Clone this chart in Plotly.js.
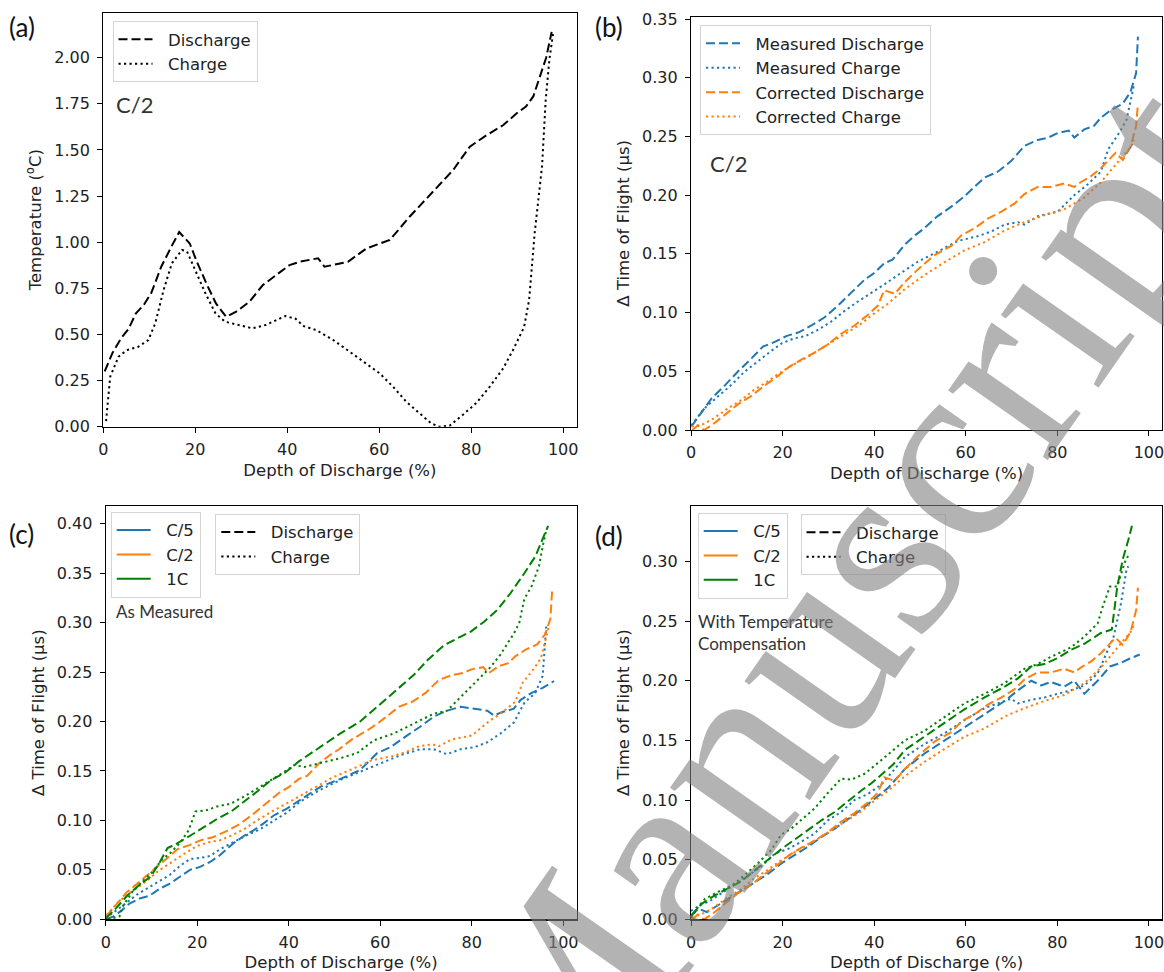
<!DOCTYPE html>
<html>
<head>
<meta charset="utf-8">
<script src="https://cdn.plot.ly/plotly-3.0.1.min.js"></script>
<style>html,body{margin:0;padding:0;background:#fff;}#chart{width:1164px;height:972px;}</style>
</head>
<body>
<div id="chart"></div>
<script>
// ---------- DATA ----------
// (a) temperature, C/2
const a_dis_x = [0.3, 2, 3.9, 5.5, 7.1, 8.8, 10.4, 12.6, 14.8, 16.5, 18.8, 20.2, 22.4, 24.5, 26.7, 28.9, 31.8, 34.7, 37.6, 40.5, 42.7, 44.9, 46.7, 48.1, 50, 53.2, 57.2, 62.3, 66.6, 71.7, 76.1, 79.7, 83.4, 87, 89.9, 91.9, 93.5, 95.1, 96.3, 97.5];
const a_dis_y = [0.30, 0.40, 0.48, 0.53, 0.615, 0.66, 0.723, 0.867, 0.976, 1.055, 0.993, 0.903, 0.777, 0.668, 0.596, 0.623, 0.678, 0.768, 0.822, 0.876, 0.894, 0.903, 0.913, 0.867, 0.876, 0.894, 0.966, 1.012, 1.138, 1.274, 1.392, 1.518, 1.581, 1.635, 1.699, 1.735, 1.79, 1.91, 2.0, 2.14];
const a_chg_x = [0.6, 1.0, 1.5, 3.3, 5.1, 7.6, 9.8, 11.3, 13.1, 14.9, 17.1, 18.2, 20, 22.2, 24.4, 26.5, 29.5, 32.4, 35.3, 37.5, 39.6, 41.8, 43.6, 46.3, 50, 53.6, 57.2, 60.1, 63, 65.9, 68.8, 71.3, 73.1, 75.3, 78.2, 81.1, 84.1, 87, 89.1, 90.6, 91.5, 92.6, 93.8, 95.4, 96.2, 97, 97.8];
const a_chg_y = [0.03, 0.15, 0.271, 0.379, 0.415, 0.433, 0.47, 0.56, 0.74, 0.885, 0.958, 0.95, 0.85, 0.723, 0.614, 0.569, 0.551, 0.533, 0.551, 0.578, 0.6, 0.585, 0.545, 0.524, 0.47, 0.406, 0.343, 0.289, 0.217, 0.135, 0.072, 0.018, 0.0, 0.005, 0.065, 0.128, 0.219, 0.318, 0.416, 0.497, 0.54, 0.687, 1.048, 1.41, 1.77, 1.99, 2.13];

// (b) C/2 measured / corrected  (same C/2 data reused in c and d)
const mDis_x = [0.1, 1.9, 4.5, 7.4, 10.3, 13.2, 15.7, 18.3, 20.8, 23.4, 26.3, 29.2, 32.1, 35, 37.9, 40.1, 42.2, 44, 46.7, 49, 51, 53.8, 55.4, 57.5, 59.7, 62, 64.1, 67, 69.9, 72.8, 75.7, 78, 80.1, 82.5, 83.7, 85.9, 88, 89.5, 91.9, 94.3, 96, 97.2, 97.6];
const mDis_y = [0.003, 0.013, 0.027, 0.038, 0.050, 0.061, 0.071, 0.075, 0.080, 0.083, 0.089, 0.096, 0.106, 0.117, 0.128, 0.134, 0.142, 0.145, 0.158, 0.166, 0.172, 0.182, 0.186, 0.192, 0.199, 0.207, 0.215, 0.220, 0.229, 0.242, 0.247, 0.249, 0.253, 0.255, 0.249, 0.256, 0.259, 0.266, 0.273, 0.278, 0.288, 0.304, 0.335];
const mChg_x = [0.1, 2.8, 5.7, 9, 11.5, 14.4, 17.4, 19.9, 22.5, 25, 27.6, 30.5, 33.4, 36.3, 39.2, 42.2, 45.2, 49.6, 53.9, 58.3, 62.6, 65.5, 68.5, 71.4, 72.8, 75.7, 80.1, 83.7, 86.6, 89.5, 91.1, 93.5, 95.1, 96, 96.8];
const mChg_y = [0.004, 0.018, 0.028, 0.039, 0.049, 0.058, 0.067, 0.074, 0.078, 0.080, 0.085, 0.092, 0.101, 0.109, 0.116, 0.124, 0.132, 0.1435, 0.152, 0.161, 0.165, 0.169, 0.175, 0.177, 0.175, 0.182, 0.186, 0.200, 0.209, 0.220, 0.239, 0.253, 0.264, 0.281, 0.295];
const cDis_x = [0.3, 1.5, 2.8, 4.5, 7.4, 10.3, 13.2, 16.1, 19, 21.5, 24.1, 27, 29.9, 32.8, 35.7, 38.6, 40.8, 42.2, 44.5, 46.7, 49.6, 53.2, 56.9, 59.1, 62, 64.8, 67.8, 70.7, 72.8, 75.7, 78.6, 81.5, 83.7, 85.1, 87.3, 89.5, 92.7, 94.3, 96, 97.2, 97.6];
const cDis_y = [0.0, 0.004, 0.0, 0.004, 0.013, 0.022, 0.029, 0.038, 0.046, 0.054, 0.060, 0.066, 0.073, 0.082, 0.089, 0.098, 0.106, 0.119, 0.116, 0.126, 0.137, 0.149, 0.157, 0.166, 0.172, 0.180, 0.186, 0.193, 0.201, 0.207, 0.207, 0.210, 0.207, 0.211, 0.216, 0.223, 0.236, 0.230, 0.241, 0.259, 0.278];
const cChg_x = [0.1, 2.2, 5, 7.9, 10.8, 13.7, 16.6, 19.5, 22.5, 25.4, 28.3, 31.2, 34.1, 37, 39.9, 42.8, 46.7, 51, 55.4, 59.7, 64.1, 68.5, 72.8, 77.2, 81.5, 85.9, 89.5, 91.9, 94.3, 96, 96.8];
const cChg_y = [0.003, 0.004, 0.010, 0.018, 0.025, 0.034, 0.041, 0.049, 0.056, 0.062, 0.069, 0.076, 0.083, 0.090, 0.099, 0.107, 0.120, 0.132, 0.143, 0.153, 0.160, 0.170, 0.177, 0.183, 0.188, 0.198, 0.211, 0.222, 0.233, 0.241, 0.247];

// (c) as measured: C/5 and 1C
const c5Dis_x = [0.1, 1.7, 3.2, 5.2, 7.4, 9.6, 11.8, 14, 16.2, 18.4, 20.6, 22.8, 25, 27.9, 30.1, 32.3, 34.5, 36.7, 39.6, 42.5, 46.9, 51.3, 55.6, 59.3, 62.2, 65.9, 68.8, 71.7, 74.6, 77.6, 80.5, 83.4, 84.9, 86.3, 89.2, 90.7, 93.1, 95.5, 98];
const c5Dis_y = [0.0, 0.003, 0.008, 0.016, 0.021, 0.024, 0.031, 0.036, 0.043, 0.050, 0.053, 0.058, 0.065, 0.077, 0.084, 0.090, 0.097, 0.105, 0.112, 0.121, 0.134, 0.142, 0.151, 0.168, 0.174, 0.186, 0.195, 0.205, 0.211, 0.215, 0.213, 0.211, 0.206, 0.209, 0.213, 0.222, 0.229, 0.234, 0.241];
const c5Chg_x = [0, 2.4, 4.6, 6.8, 9.4, 11.8, 14, 16.2, 18.4, 20.6, 22.8, 25, 27.9, 30.8, 33.7, 36.7, 39.6, 42.5, 46.9, 51.3, 55.6, 60, 64.4, 68.8, 71.7, 74.6, 77.6, 80.5, 83.4, 86.3, 89.2, 91.5, 93.9, 95.5, 96, 96.3];
const c5Chg_y = [0.001, 0.009, 0.017, 0.025, 0.032, 0.039, 0.045, 0.054, 0.061, 0.062, 0.064, 0.071, 0.078, 0.085, 0.091, 0.100, 0.108, 0.119, 0.131, 0.141, 0.149, 0.158, 0.166, 0.172, 0.172, 0.167, 0.172, 0.174, 0.179, 0.188, 0.199, 0.219, 0.229, 0.246, 0.276, 0.297];
const c1Dis_x = [0, 2.2, 4.7, 7.6, 9.8, 11.7, 13.5, 15.7, 18.6, 21.5, 24.5, 27.4, 30.3, 33.3, 36.2, 39.1, 42.3, 46.9, 51.3, 55.6, 59.3, 63.7, 67.3, 70.3, 73.9, 77.6, 79.8, 82.7, 85.6, 88.5, 90.4, 91.5, 93.9, 95.5, 96.7];
const c1Dis_y = [0.001, 0.011, 0.024, 0.036, 0.043, 0.057, 0.072, 0.077, 0.085, 0.093, 0.102, 0.109, 0.119, 0.130, 0.141, 0.148, 0.160, 0.174, 0.188, 0.200, 0.215, 0.232, 0.247, 0.262, 0.277, 0.286, 0.291, 0.301, 0.313, 0.330, 0.342, 0.350, 0.367, 0.384, 0.398];
const c1Chg_x = [0.5, 3, 3.8, 6, 8.2, 10.4, 12.2, 14.1, 16.2, 18.1, 19.6, 21.8, 24.3, 27.3, 30.2, 33.1, 36.1, 39, 41.2, 43.4, 46.9, 51.3, 54.9, 58.6, 63, 67.3, 71.7, 74.6, 77.6, 81.2, 84.1, 86.3, 89.2, 90.4, 91.5, 93.1, 94.7, 95.5, 96.3];
const c1Chg_y = [0.0, 0.003, 0.014, 0.029, 0.039, 0.049, 0.060, 0.067, 0.077, 0.090, 0.109, 0.110, 0.114, 0.117, 0.124, 0.132, 0.141, 0.149, 0.156, 0.154, 0.158, 0.163, 0.168, 0.181, 0.188, 0.198, 0.208, 0.211, 0.225, 0.241, 0.255, 0.268, 0.289, 0.300, 0.324, 0.337, 0.357, 0.377, 0.394];

// (d) with temperature compensation: C/5 and 1C
const d5Dis_x = [0, 1.6, 3.5, 5.2, 8.1, 11, 13.9, 16.8, 19.8, 22.7, 25.6, 28.5, 31.4, 34.3, 37.2, 40.1, 43, 46.7, 51, 55.4, 59.7, 64.1, 68.5, 71.4, 74.3, 76.5, 78.6, 81.5, 83.7, 85.9, 88.8, 91.5, 93.9, 95.5, 98];
const d5Dis_y = [0.003, 0.009, 0.006, 0.010, 0.017, 0.024, 0.031, 0.038, 0.047, 0.054, 0.061, 0.069, 0.076, 0.084, 0.092, 0.101, 0.110, 0.126, 0.139, 0.150, 0.161, 0.172, 0.183, 0.192, 0.200, 0.196, 0.199, 0.195, 0.200, 0.189, 0.200, 0.212, 0.215, 0.218, 0.222];
const d5Chg_x = [0, 2, 4, 6.7, 11, 15.3, 18.3, 21.2, 24.1, 27, 29.9, 32.8, 35.7, 38.6, 41.6, 44.2, 46.7, 51, 55.4, 59.7, 64.1, 67, 69.9, 71.4, 74.3, 77.2, 80.1, 83, 85.9, 88.8, 92.3, 93.9, 95.1, 95.5];
const d5Chg_y = [0.007, 0.012, 0.015, 0.022, 0.033, 0.044, 0.055, 0.059, 0.065, 0.072, 0.083, 0.090, 0.100, 0.105, 0.113, 0.125, 0.136, 0.147, 0.156, 0.167, 0.177, 0.181, 0.185, 0.181, 0.184, 0.186, 0.189, 0.192, 0.196, 0.206, 0.237, 0.265, 0.293, 0.296];
const d1Dis_x = [0, 2.3, 5.2, 8.1, 11, 13.9, 16.8, 19.8, 22.7, 25.6, 28.5, 31.4, 34.3, 37.2, 39.4, 41.6, 44.2, 46.7, 51, 55.4, 59.7, 64.1, 68.5, 71.4, 74.3, 77.2, 80.1, 83, 85.9, 89.5, 91.9, 93.1, 94.3, 95.5, 96.3];
const d1Dis_y = [0.003, 0.013, 0.020, 0.026, 0.032, 0.041, 0.050, 0.059, 0.067, 0.075, 0.083, 0.090, 0.099, 0.108, 0.114, 0.121, 0.130, 0.142, 0.153, 0.165, 0.176, 0.186, 0.195, 0.202, 0.212, 0.214, 0.219, 0.226, 0.231, 0.240, 0.243, 0.279, 0.302, 0.318, 0.330];
const d1Chg_x = [0, 1.5, 3, 5.9, 8.8, 11.7, 14.6, 17.5, 19.7, 21.9, 24, 27, 29.9, 32.8, 35, 37.9, 40.8, 43.7, 46.7, 51, 55.4, 59.7, 64.1, 68.5, 72.8, 75.7, 78.6, 83, 85.9, 88.8, 89.9, 91.5, 93.1, 94.7, 95.5];
const d1Chg_y = [0.001, 0.010, 0.017, 0.023, 0.028, 0.037, 0.047, 0.058, 0.071, 0.076, 0.083, 0.093, 0.106, 0.118, 0.117, 0.122, 0.131, 0.140, 0.150, 0.158, 0.170, 0.181, 0.189, 0.198, 0.210, 0.214, 0.220, 0.228, 0.237, 0.248, 0.262, 0.279, 0.279, 0.299, 0.305];

const xTicks = [0, 20, 40, 60, 80, 100];
const xTitle = 'Depth of Discharge (%)';
const tofTitle = '\u0394 Time of Flight (\u00b5s)';

// ---------- STYLE ----------
const BLUE = '#1f77b4', ORANGE = '#ff7f0e', GREEN = '#008000', BLACK = '#000000';
const DASH = '9px,4px', DOT = '2.2px,3.3px';
const LW = 2;
const TXT = '#222222';
const PAD = '\u00a0\u00a0';

function tr(x, y, ax, color, dash, name, legend, show) {
  return {x: x, y: y, xaxis: 'x' + ax, yaxis: 'y' + ax, type: 'scatter', mode: 'lines',
    line: {color: color, dash: dash, width: LW}, name: PAD + name, legend: legend,
    showlegend: !!show, hoverinfo: 'skip'};
}
function dummy(ax, color, dash, name, legend) {
  return tr([null], [null], ax, color, dash, name, legend, true);
}

const data = [
  // (a)
  tr(a_dis_x, a_dis_y, '', BLACK, DASH, 'Discharge', 'legend', true),
  tr(a_chg_x, a_chg_y, '', BLACK, DOT, 'Charge', 'legend', true),
  // (b)
  tr(mDis_x, mDis_y, '2', BLUE, DASH, 'Measured Discharge', 'legend2', true),
  tr(mChg_x, mChg_y, '2', BLUE, DOT, 'Measured Charge', 'legend2', true),
  tr(cDis_x, cDis_y, '2', ORANGE, DASH, 'Corrected Discharge', 'legend2', true),
  tr(cChg_x, cChg_y, '2', ORANGE, DOT, 'Corrected Charge', 'legend2', true),
  // (c)
  tr(c5Dis_x, c5Dis_y, '3', BLUE, DASH, 'C/5 Discharge', 'legend3', false),
  tr(c5Chg_x, c5Chg_y, '3', BLUE, DOT, 'C/5 Charge', 'legend3', false),
  tr(mDis_x, mDis_y, '3', ORANGE, DASH, 'C/2 Discharge', 'legend3', false),
  tr(mChg_x, mChg_y, '3', ORANGE, DOT, 'C/2 Charge', 'legend3', false),
  tr(c1Dis_x, c1Dis_y, '3', GREEN, DASH, '1C Discharge', 'legend3', false),
  tr(c1Chg_x, c1Chg_y, '3', GREEN, DOT, '1C Charge', 'legend3', false),
  dummy('3', BLUE, 'solid', 'C/5', 'legend3'),
  dummy('3', ORANGE, 'solid', 'C/2', 'legend3'),
  dummy('3', GREEN, 'solid', '1C', 'legend3'),
  dummy('3', BLACK, DASH, 'Discharge', 'legend4'),
  dummy('3', BLACK, DOT, 'Charge', 'legend4'),
  // (d)
  tr(d5Dis_x, d5Dis_y, '4', BLUE, DASH, 'C/5 Discharge', 'legend5', false),
  tr(d5Chg_x, d5Chg_y, '4', BLUE, DOT, 'C/5 Charge', 'legend5', false),
  tr(cDis_x, cDis_y, '4', ORANGE, DASH, 'C/2 Discharge', 'legend5', false),
  tr(cChg_x, cChg_y, '4', ORANGE, DOT, 'C/2 Charge', 'legend5', false),
  tr(d1Dis_x, d1Dis_y, '4', GREEN, DASH, '1C Discharge', 'legend5', false),
  tr(d1Chg_x, d1Chg_y, '4', GREEN, DOT, '1C Charge', 'legend5', false),
  dummy('4', BLUE, 'solid', 'C/5', 'legend5'),
  dummy('4', ORANGE, 'solid', 'C/2', 'legend5'),
  dummy('4', GREEN, 'solid', '1C', 'legend5'),
  dummy('4', BLACK, DASH, 'Discharge', 'legend6'),
  dummy('4', BLACK, DOT, 'Charge', 'legend6')
];

const W = 1164, H = 972;
function px(v) { return v / W; }
function py(v) { return 1 - v / H; }

function xaxis(d0, d1, anchor) {
  return {domain: [d0, d1], anchor: anchor, range: [0, 102.9], tickvals: xTicks,
    ticks: 'outside', ticklen: 5, tickwidth: 1, tickcolor: '#000', showline: true, mirror: true,
    linecolor: '#000', linewidth: 1.2, showgrid: false, zeroline: false,
    tickfont: {size: 16, color: TXT}, ticklabelstandoff: 3, ticklabeloverflow: 'allow',
    title: {text: xTitle, font: {size: 16.5, color: TXT}, standoff: 6}};
}
function yaxis(d0, d1, anchor, range, dtick, title) {
  return {domain: [d0, d1], anchor: anchor, range: range, dtick: dtick, tick0: 0, tickformat: '.2f',
    ticks: 'outside', ticklen: 5, tickwidth: 1, tickcolor: '#000', showline: true, mirror: true,
    linecolor: '#000', linewidth: 1.2, showgrid: false, zeroline: false,
    tickfont: {size: 16, color: TXT}, ticklabelstandoff: 4,
    title: {text: title, font: {size: 16.5, color: TXT}, standoff: 8}};
}
function legend(x, y) {
  return {x: x, y: y, xanchor: 'left', yanchor: 'top', bgcolor: 'rgba(255,255,255,0.85)',
    bordercolor: '#d4d4d4', borderwidth: 1, font: {size: 16.5, color: TXT, family: 'DejaVu Sans'},
    tracegroupgap: 0, itemwidth: 34, itemclick: false, itemdoubleclick: false};
}
function note(text, x, y, size, color) {
  return {text: text, xref: 'paper', yref: 'paper', x: x, y: y, xanchor: 'left', yanchor: 'middle',
    showarrow: false, align: 'left', font: {family: 'Lato', size: size, color: color || '#222'}};
}

const layout = {
  width: W, height: H, margin: {l: 0, r: 0, t: 0, b: 0}, autosize: false,
  paper_bgcolor: '#fff', plot_bgcolor: '#fff',
  font: {family: 'DejaVu Sans', color: TXT},
  showlegend: true,
  xaxis: xaxis(px(103.3), px(576.5), 'y'),
  yaxis: yaxis(py(426.7), py(12.7), 'x', [0, 2.244], 0.25, 'Temperature (<sup>o</sup>C)'),
  xaxis2: xaxis(px(691), px(1162.2), 'y2'),
  yaxis2: yaxis(py(430), py(16.7), 'x2', [0, 0.352], 0.05, tofTitle),
  xaxis3: xaxis(px(105.8), px(576.5), 'y3'),
  yaxis3: yaxis(py(919.3), py(506), 'x3', [0, 0.418], 0.05, tofTitle),
  xaxis4: xaxis(px(691), px(1162.2), 'y4'),
  yaxis4: yaxis(py(919.3), py(506), 'x4', [0, 0.3465], 0.05, tofTitle),
  legend: legend(px(112.5), py(21)),
  legend2: legend(px(700), py(25)),
  legend3: legend(px(110.7), py(511.7)),
  legend4: legend(px(215.3), py(513.7)),
  legend5: legend(px(697.7), py(512.7)),
  legend6: legend(px(800.5), py(514)),
  annotations: [
    note('(a)', px(7), py(27), 26, '#111'),
    note('(b)', px(593), py(27), 26, '#111'),
    note('(c)', px(7), py(534), 26, '#111'),
    note('(d)', px(593), py(536), 26, '#111'),
    note('C/2', px(114), py(104.5), 22, '#333'),
    note('C/2', px(708), py(163), 22, '#333'),
    note('As Measured', px(114), py(611.5), 17, '#333'),
    note('With Temperature<br>Compensation', px(696), py(632.8), 17, '#333'),
    {text: 'Manuscript', xref: 'paper', yref: 'paper', x: px(837), y: py(606),
     xanchor: 'center', yanchor: 'middle', showarrow: false, textangle: -55,
     font: {family: 'Liberation Serif', size: 265, color: 'rgba(128,128,128,0.6)'}}
  ]
};

Plotly.newPlot('chart', data, layout, {staticPlot: true, displayModeBar: false});
</script>
</body>
</html>
